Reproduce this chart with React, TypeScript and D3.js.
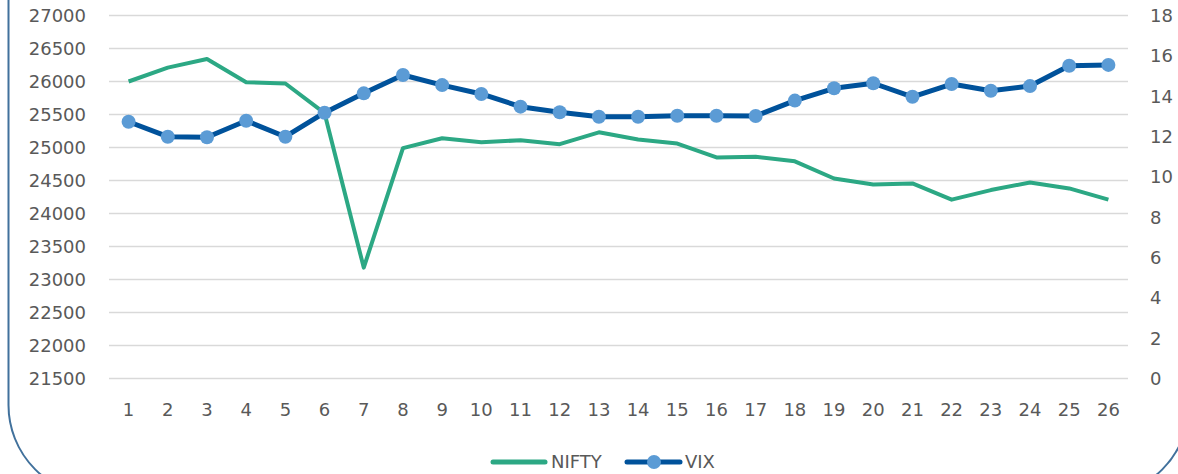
import * as d3 from "d3";
import React, { useEffect } from "react";

// day index along the x axis
const days = d3.range(1, 27);

// NIFTY closing level (left axis)
const nifty = [
  26000, 26210, 26340, 25990, 25970, 25520, 23180, 24990, 25140, 25080,
  25110, 25050, 25230, 25120, 25060, 24850, 24860, 24790, 24530, 24440,
  24455, 24210, 24355, 24470, 24380, 24210,
];

// India VIX (right axis)
const vix = [
  12.73, 11.99, 11.96, 12.78, 11.99, 13.18, 14.14, 15.05, 14.55, 14.11,
  13.48, 13.2, 12.98, 12.98, 13.03, 13.03, 13.02, 13.78, 14.39, 14.64,
  13.97, 14.6, 14.27, 14.5, 15.51, 15.55,
];

const leftTicks = d3.range(21500, 27001, 500);
const rightTicks = d3.range(0, 19, 2);

const W = 1178;
const H = 474;
const font = "'DejaVu Sans', sans-serif";
const textColor = "#595959";

const App = () => {
  useEffect(() => {
    document.body.style.margin = "0";
  }, []);

  const x = d3.scaleBand<number>().domain(days).range([109, 1128]);
  const cx = (d: number) => (x(d) as number) + x.bandwidth() / 2;
  const yL = d3.scaleLinear().domain([21500, 27000]).range([378.5, 15.5]);
  const yR = d3.scaleLinear().domain([0, 18]).range([378.5, 15.5]);

  const niftyLine = d3
    .line<number>()
    .x((_, i) => cx(days[i]))
    .y((d) => yL(d));
  const vixLine = d3
    .line<number>()
    .x((_, i) => cx(days[i]))
    .y((d) => yR(d));

  return (
    <svg width={W} height={H} style={{ display: "block", background: "#fff" }}>
      {/* frame */}
      <rect x={8.5} y={-120} width={1180.5} height={616} rx={91} ry={91}
        fill="none" stroke="#41719c" strokeWidth={2} />

      {/* gridlines */}
      {leftTicks.map((t) => (
        <line key={t} x1={109} x2={1128} y1={yL(t)} y2={yL(t)}
          stroke="#d9d9d9" strokeWidth={1.5} />
      ))}

      {/* left axis labels */}
      {leftTicks.map((t) => (
        <text key={t} x={86} y={yL(t)} dy="0.36em" textAnchor="end"
          fontFamily={font} fontSize={18} fill={textColor}>{t}</text>
      ))}

      {/* right axis labels */}
      {rightTicks.map((t) => (
        <text key={t} x={1150} y={yR(t)} dy="0.36em" textAnchor="start"
          fontFamily={font} fontSize={18} fill={textColor}>{t}</text>
      ))}

      {/* x labels */}
      {days.map((d) => (
        <text key={d} x={cx(d)} y={410} dy="0.36em" textAnchor="middle"
          fontFamily={font} fontSize={18} fill={textColor}>{d}</text>
      ))}

      {/* series */}
      <path d={niftyLine(nifty) as string} fill="none" stroke="#2ca884"
        strokeWidth={4} strokeLinejoin="round" />
      <path d={vixLine(vix) as string} fill="none" stroke="#00529b"
        strokeWidth={5} strokeLinejoin="round" />
      {vix.map((v, i) => (
        <circle key={i} cx={cx(days[i])} cy={yR(v)} r={7} fill="#5b9bd5" />
      ))}

      {/* legend */}
      <line x1={493} x2={545} y1={462} y2={462} stroke="#2ca884"
        strokeWidth={5} strokeLinecap="round" />
      <text x={551} y={462} dy="0.36em" fontFamily={font} fontSize={18}
        fill={textColor}>NIFTY</text>
      <line x1={627} x2={680} y1={462} y2={462} stroke="#00529b"
        strokeWidth={5} strokeLinecap="round" />
      <circle cx={654} cy={462} r={7} fill="#5b9bd5" />
      <text x={685} y={462} dy="0.36em" fontFamily={font} fontSize={18}
        fill={textColor}>VIX</text>
    </svg>
  );
};

export default App;
